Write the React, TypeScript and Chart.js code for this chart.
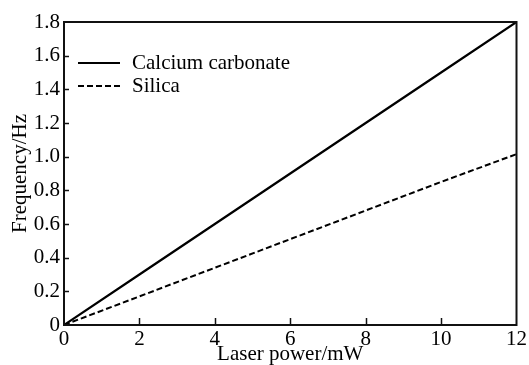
import React, { useEffect, useRef } from "react";
import { Chart, registerables } from "chart.js";

Chart.register(...registerables);

const xValues = [0, 2, 4, 6, 8, 10, 12];
const calciumCarbonate = [0, 0.3, 0.6, 0.9, 1.2, 1.5, 1.8];
const silica = [0, 0.17, 0.34, 0.51, 0.68, 0.85, 1.015];
const seriesLabels = ["Calcium carbonate", "Silica"];
const xTitle = "Laser power/mW";
const yTitle = "Frequency/Hz";

const FONT = "'Liberation Serif', 'Times New Roman', serif";

const framePlugin = {
  id: "frame",
  afterDraw(chart: any) {
    const { ctx, chartArea, scales } = chart;
    const { left, right, top, bottom } = chartArea;
    ctx.save();
    ctx.strokeStyle = "#111";
    ctx.lineWidth = 2;
    ctx.strokeRect(left, top, right - left, bottom - top);
    ctx.lineWidth = 1.5;
    scales.y.ticks.forEach((t: any) => {
      const y = Math.round(scales.y.getPixelForValue(t.value)) + 0.5;
      if (t.value === 0 || t.value >= 1.8) return;
      ctx.beginPath();
      ctx.moveTo(left, y);
      ctx.lineTo(left + 5, y);
      ctx.stroke();
    });
    scales.x.ticks.forEach((t: any) => {
      const x = Math.round(scales.x.getPixelForValue(t.value)) + 0.5;
      if (t.value === 0 || t.value >= 12) return;
      ctx.beginPath();
      ctx.moveTo(x, bottom);
      ctx.lineTo(x, bottom - 7);
      ctx.stroke();
    });
    const lx = left + 14;
    const ly = top + 41;
    const gap = 23;
    chart.data.datasets.forEach((ds: any, i: number) => {
      const y = ly + i * gap;
      ctx.strokeStyle = "#000";
      ctx.lineWidth = 2;
      ctx.setLineDash(ds.borderDash || []);
      ctx.beginPath();
      ctx.moveTo(lx, y);
      ctx.lineTo(lx + 42, y);
      ctx.stroke();
      ctx.setLineDash([]);
      ctx.fillStyle = "#000";
      ctx.font = `21px ${FONT}`;
      ctx.textBaseline = "middle";
      ctx.textAlign = "left";
      ctx.fillText(ds.label, lx + 54, y);
    });
    ctx.restore();
  },
};

const bgPlugin = {
  id: "bg",
  beforeDraw(chart: any) {
    const { ctx, width, height } = chart;
    ctx.save();
    ctx.fillStyle = "#fff";
    ctx.fillRect(0, 0, width, height);
    ctx.restore();
  },
};

export default function App() {
  const ref = useRef<HTMLCanvasElement>(null);
  useEffect(() => {
    if (!ref.current) return;
    const chart = new Chart(ref.current, {
      type: "line",
      data: {
        datasets: [
          {
            label: seriesLabels[0],
            data: xValues.map((x, i) => ({ x, y: calciumCarbonate[i] })),
            borderColor: "#000",
            borderWidth: 2.2,
            pointRadius: 0,
            fill: false,
          },
          {
            label: seriesLabels[1],
            data: xValues.map((x, i) => ({ x, y: silica[i] })),
            borderColor: "#000",
            borderWidth: 2,
            borderDash: [6, 3],
            pointRadius: 0,
            fill: false,
          },
        ],
      },
      options: {
        animation: false,
        responsive: false,
        events: [],
        layout: { padding: { top: 22, right: 11, bottom: 0, left: 0 } },
        plugins: { legend: { display: false }, tooltip: { enabled: false } },
        scales: {
          x: {
            type: "linear",
            min: 0,
            max: 12,
            grid: { display: false, drawTicks: false },
            border: { display: false },
            ticks: {
              stepSize: 2,
              padding: 2,
              color: "#000",
              maxRotation: 0,
              font: { family: FONT, size: 21 },
            },
            title: {
              display: true,
              text: xTitle,
              color: "#000",
              font: { family: FONT, size: 21, lineHeight: 1.0 },
              padding: { top: 0, bottom: 0 },
            },
            afterFit(scale: any) {
              scale.height = 40;
            },
          },
          y: {
            type: "linear",
            min: 0,
            max: 1.8,
            grid: { display: false, drawTicks: false },
            border: { display: false },
            ticks: {
              stepSize: 0.2,
              padding: 4,
              color: "#000",
              font: { family: FONT, size: 21 },
              callback: (v: any) => (Number(v) === 0 ? "0" : Number(v).toFixed(1)),
            },
            title: {
              display: true,
              text: yTitle,
              color: "#000",
              font: { family: FONT, size: 21, lineHeight: 1.2 },
              padding: { top: 8, bottom: 0 },
            },
            afterFit(scale: any) {
              scale.width = 64;
            },
          },
        },
      },
      plugins: [bgPlugin, framePlugin],
    });
    return () => chart.destroy();
  }, []);
  return (
    <div style={{ position: "absolute", left: 0, top: 0, width: 529, height: 365 }}>
      <canvas ref={ref} width={529} height={365} />
    </div>
  );
}
